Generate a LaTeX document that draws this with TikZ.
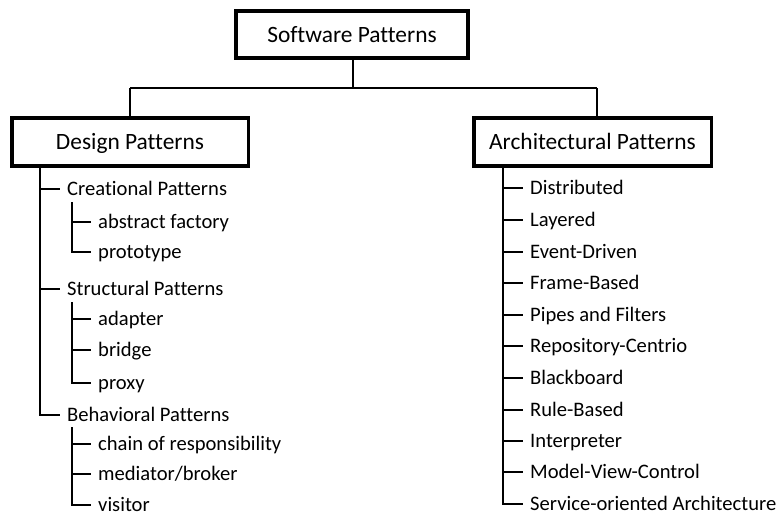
\documentclass[tikz,border=0pt]{standalone}
\usepackage{fontspec}
\setmainfont{Carlito}[Ligatures={NoCommon}]
\begin{document}
\begin{tikzpicture}[x=1pt,y=-1pt,
  box/.style={draw,line width=3.5pt,minimum height=48pt,inner sep=0pt,text height=16pt,text depth=1pt,font=\fontsize{23.4}{28}\selectfont},
  item/.style={anchor=west,inner ysep=0pt,inner xsep=7pt,text height=13pt,text depth=0pt,font=\fontsize{20.6}{24}\selectfont},
  conn/.style={line width=2pt}]
\useasboundingbox (0,0) rectangle (782,515);
% boxes
\node[box,minimum width=232pt,minimum height=47pt] (sw) at (352,34.5) {Software Patterns};
\node[box,minimum width=236.5pt] (dp) at (130,142) {Design Patterns};
\node[box,minimum width=237.5pt] (ap) at (592.5,142) {Architectural Patterns};
\coordinate (hub) at (353,88);
\coordinate (dpin) at (130,88);
\coordinate (apin) at (597,88);
\draw[conn] (hub |- sw.south) -- (hub);
\draw[conn] (dpin) -- (apin);
\draw[conn] (dpin) -- (dp.north);
\draw[conn] (apin) -- (apin |- ap.north);
% left tree
\node[item] (cre) at (60,189) {Creational Patterns};
\node[item] (abs) at (91,222) {abstract factory};
\node[item] (pro) at (91,252) {prototype};
\node[item] (str) at (60,289) {Structural Patterns};
\node[item] (ada) at (91,319) {adapter};
\node[item] (bri) at (91,350) {bridge};
\node[item] (prx) at (91,383) {proxy};
\node[item] (beh) at (60,415) {Behavioral Patterns};
\node[item] (cha) at (91,444) {chain of responsibility};
\node[item] (med) at (91,474) {mediator/broker};
\node[item] (vis) at (91,504.5) {visitor};
\coordinate (dt) at (40,168);
\draw[conn] (dt) |- (beh.west);
\draw[conn] (cre.west -| dt) -- (cre.west);
\draw[conn] (str.west -| dt) -- (str.west);
\coordinate (ct) at (72,202);
\draw[conn] (ct) |- (pro.west);
\draw[conn] (abs.west -| ct) -- (abs.west);
\coordinate (st) at (72,302);
\draw[conn] (st) |- (prx.west);
\draw[conn] (ada.west -| st) -- (ada.west);
\draw[conn] (bri.west -| st) -- (bri.west);
\coordinate (bt) at (72,427);
\draw[conn] (bt) |- (vis.west);
\draw[conn] (cha.west -| bt) -- (cha.west);
\draw[conn] (med.west -| bt) -- (med.west);
% right tree
\node[item] (r1) at (523,188) {Distributed};
\node[item] (r2) at (523,220) {Layered};
\node[item] (r3) at (523,252) {Event-Driven};
\node[item] (r4) at (523,283) {Frame-Based};
\node[item] (r5) at (523,315) {Pipes and Filters};
\node[item] (r6) at (523,346) {Repository-Centrio};
\node[item] (r7) at (523,378) {Blackboard};
\node[item] (r8) at (523,410) {Rule-Based};
\node[item] (r9) at (523,441) {Interpreter};
\node[item] (r10) at (523,472) {Model-View-Control};
\node[item] (r11) at (523,504) {Service-oriented Architecture};
\coordinate (rt) at (503,168);
\draw[conn] (rt) |- (r11.west);
\foreach \n in {r1,r2,r3,r4,r5,r6,r7,r8,r9,r10}
  \draw[conn] (\n.west -| rt) -- (\n.west);
\end{tikzpicture}
\end{document}
